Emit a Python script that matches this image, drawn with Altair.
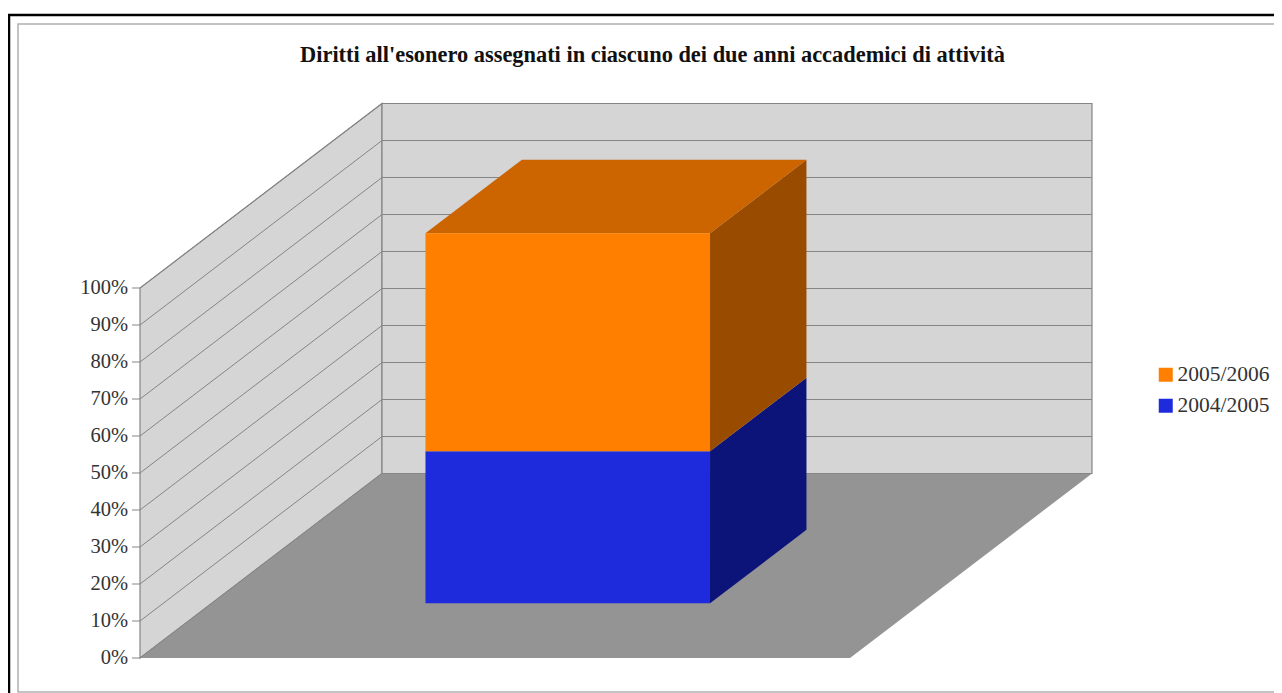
import altair as alt
import pandas as pd

# ---- chart values
years = ["2004/2005", "2005/2006"]
shares = [41.1, 58.9]
ticks = [0, 10, 20, 30, 40, 50, 60, 70, 80, 90, 100]
legend_order = ["2005/2006", "2004/2005"]
front_colors = ["#FF7F00", "#1E2BDD"]
top_colors = {"2005/2006": "#CC6400"}
side_colors = {"2004/2005": "#0D1479", "2005/2006": "#994B00"}

# ---- oblique projection of the 3-D box
W, H = 1266, 685          # plot area covers the whole picture
PX_PER_U = 710.0          # floor width, pixels per unit of u
PX_PER_PCT = 3.7
ORIGIN_X, ORIGIN_Y = 132.0, 650.0   # 0 %, front-left corner within the plot area
DX = 242.0 / PX_PER_U     # depth shift in u
DY = 184.5 / PX_PER_PCT   # depth shift in %
BAR_U = (0.301, 0.7018)
BAR_D = (0.2965, 0.695)

xs = alt.Scale(domain=[-ORIGIN_X / PX_PER_U, (W - ORIGIN_X) / PX_PER_U], nice=False, zero=False)
ys = alt.Scale(domain=[(ORIGIN_Y - H) / PX_PER_PCT, ORIGIN_Y / PX_PER_PCT], nice=False, zero=False)
X = alt.X("x:Q", scale=xs, axis=None)
Y = alt.Y("y:Q", scale=ys, axis=None)


def side_face(u, d0, d1, p0, p1):
    return pd.DataFrame([
        {"x": u + d * DX, "y": p0 + d * DY, "y2": p1 + d * DY} for d in (d0, d1)
    ])


def top_face(u0, u1, d0, d1, p):
    return pd.DataFrame([
        {"y": p + d * DY, "x": u0 + d * DX, "x2": u1 + d * DX} for d in (d0, d1)
    ])


def vertical(df, fill, stroke=None):
    kw = {"stroke": stroke, "strokeWidth": 1.2} if stroke else {}
    return alt.Chart(df).mark_area(orient="vertical", fill=fill, opacity=1, **kw).encode(
        x=X, y=Y, y2=alt.Y2("y2:Q"))


def horizontal(df, fill, stroke=None):
    kw = {"stroke": stroke, "strokeWidth": 1.2} if stroke else {}
    return alt.Chart(df).mark_area(orient="horizontal", fill=fill, opacity=1, **kw).encode(
        x=X, x2=alt.X2("x2:Q"), y=Y)


WALL = "#D5D5D5"
FLOOR = "#949494"
GRID = "#858585"
SERIF = "Liberation Serif"

# frame
page = pd.DataFrame({"k": [0]})
outer = alt.Chart(page).mark_rect(fill="white", stroke="black", strokeWidth=2.5).encode(
    x=alt.value(1), x2=alt.value(1400), y=alt.value(7), y2=alt.value(900))
inner = alt.Chart(page).mark_rect(fill="white", stroke="#B0B0B0", strokeWidth=1.5).encode(
    x=alt.value(10), x2=alt.value(1273), y=alt.value(16), y2=alt.value(684))

# walls and floor
left_wall = vertical(side_face(0, 0, 1, 0, 100), WALL, GRID)
back = pd.DataFrame({"x": [DX], "x2": [1 + DX], "y": [DY], "y2": [100 + DY]})
back_wall = alt.Chart(back).mark_rect(fill=WALL, stroke=GRID, strokeWidth=1.2).encode(
    x=X, x2=alt.X2("x2:Q"), y=Y, y2=alt.Y2("y2:Q"))
floor = horizontal(top_face(0, 1, 0, 1, 0), FLOOR)

# gridlines on both walls, plus tick marks left of the front edge
grid = pd.DataFrame({"t": ticks})
grid_side = pd.DataFrame({"x": 0.0, "y": grid.t, "x2": DX, "y2": grid.t + DY})
grid_back = pd.DataFrame({"x": DX, "y": grid.t + DY, "x2": 1 + DX, "y2": grid.t + DY})
grid_tick = pd.DataFrame({"x": -8.0 / PX_PER_U, "y": grid.t, "x2": 0.0, "y2": grid.t})
grid_lines = alt.Chart(pd.concat([grid_side, grid_back, grid_tick])).mark_rule(
    color=GRID, strokeWidth=1).encode(x=X, y=Y, x2=alt.X2("x2:Q"), y2=alt.Y2("y2:Q"))

# percentage labels
tick_df = pd.DataFrame({"x": 0.0, "y": grid.t, "label": [f"{t}%" for t in ticks]})
tick_labels = alt.Chart(tick_df).mark_text(
    align="right", baseline="middle", dx=-12, font=SERIF, fontSize=20.5, color="#333333"
).encode(x=X, y=Y, text="label:N")

# the stacked bar
faces = []
fronts = []
base = 0.0
for name, share in zip(years, shares):
    top = base + share
    faces.append(vertical(side_face(BAR_U[1], BAR_D[0], BAR_D[1], base, top), side_colors[name]))
    fronts.append({"series": name,
                   "x": BAR_U[0] + BAR_D[0] * DX, "x2": BAR_U[1] + BAR_D[0] * DX,
                   "y": base + BAR_D[0] * DY, "y2": top + BAR_D[0] * DY})
    base = top
bar_top = horizontal(top_face(BAR_U[0], BAR_U[1], BAR_D[0], BAR_D[1], base), top_colors["2005/2006"])
bar_front = alt.Chart(pd.DataFrame(fronts)).mark_rect().encode(
    x=X, x2=alt.X2("x2:Q"), y=Y, y2=alt.Y2("y2:Q"),
    color=alt.Color("series:N", scale=alt.Scale(domain=legend_order, range=front_colors), legend=alt.Legend(
        title=None, orient="none", legendX=1147, legendY=356, symbolType="square", symbolSize=196,
        symbolStrokeWidth=0, labelFont=SERIF, labelFontSize=21.5, labelColor="#333333",
        labelOffset=1, rowPadding=8, padding=0)))

chart = alt.layer(
    outer, inner, left_wall, back_wall, floor, grid_lines, tick_labels,
    *faces, bar_top, bar_front
).properties(
    width=W, height=H, padding=0,
    autosize=alt.AutoSizeParams(type="none"),
    title=alt.TitleParams(
        "Diritti all'esonero assegnati in ciascuno dei due anni accademici di attività",
        font=SERIF, fontSize=22.4, fontWeight="bold", color="#111111",
        anchor="middle", frame="group", dx=11.5, offset=-58),
).configure_view(stroke=None)

chart.save("out.html", embed_options={"renderer": "svg", "actions": False})
